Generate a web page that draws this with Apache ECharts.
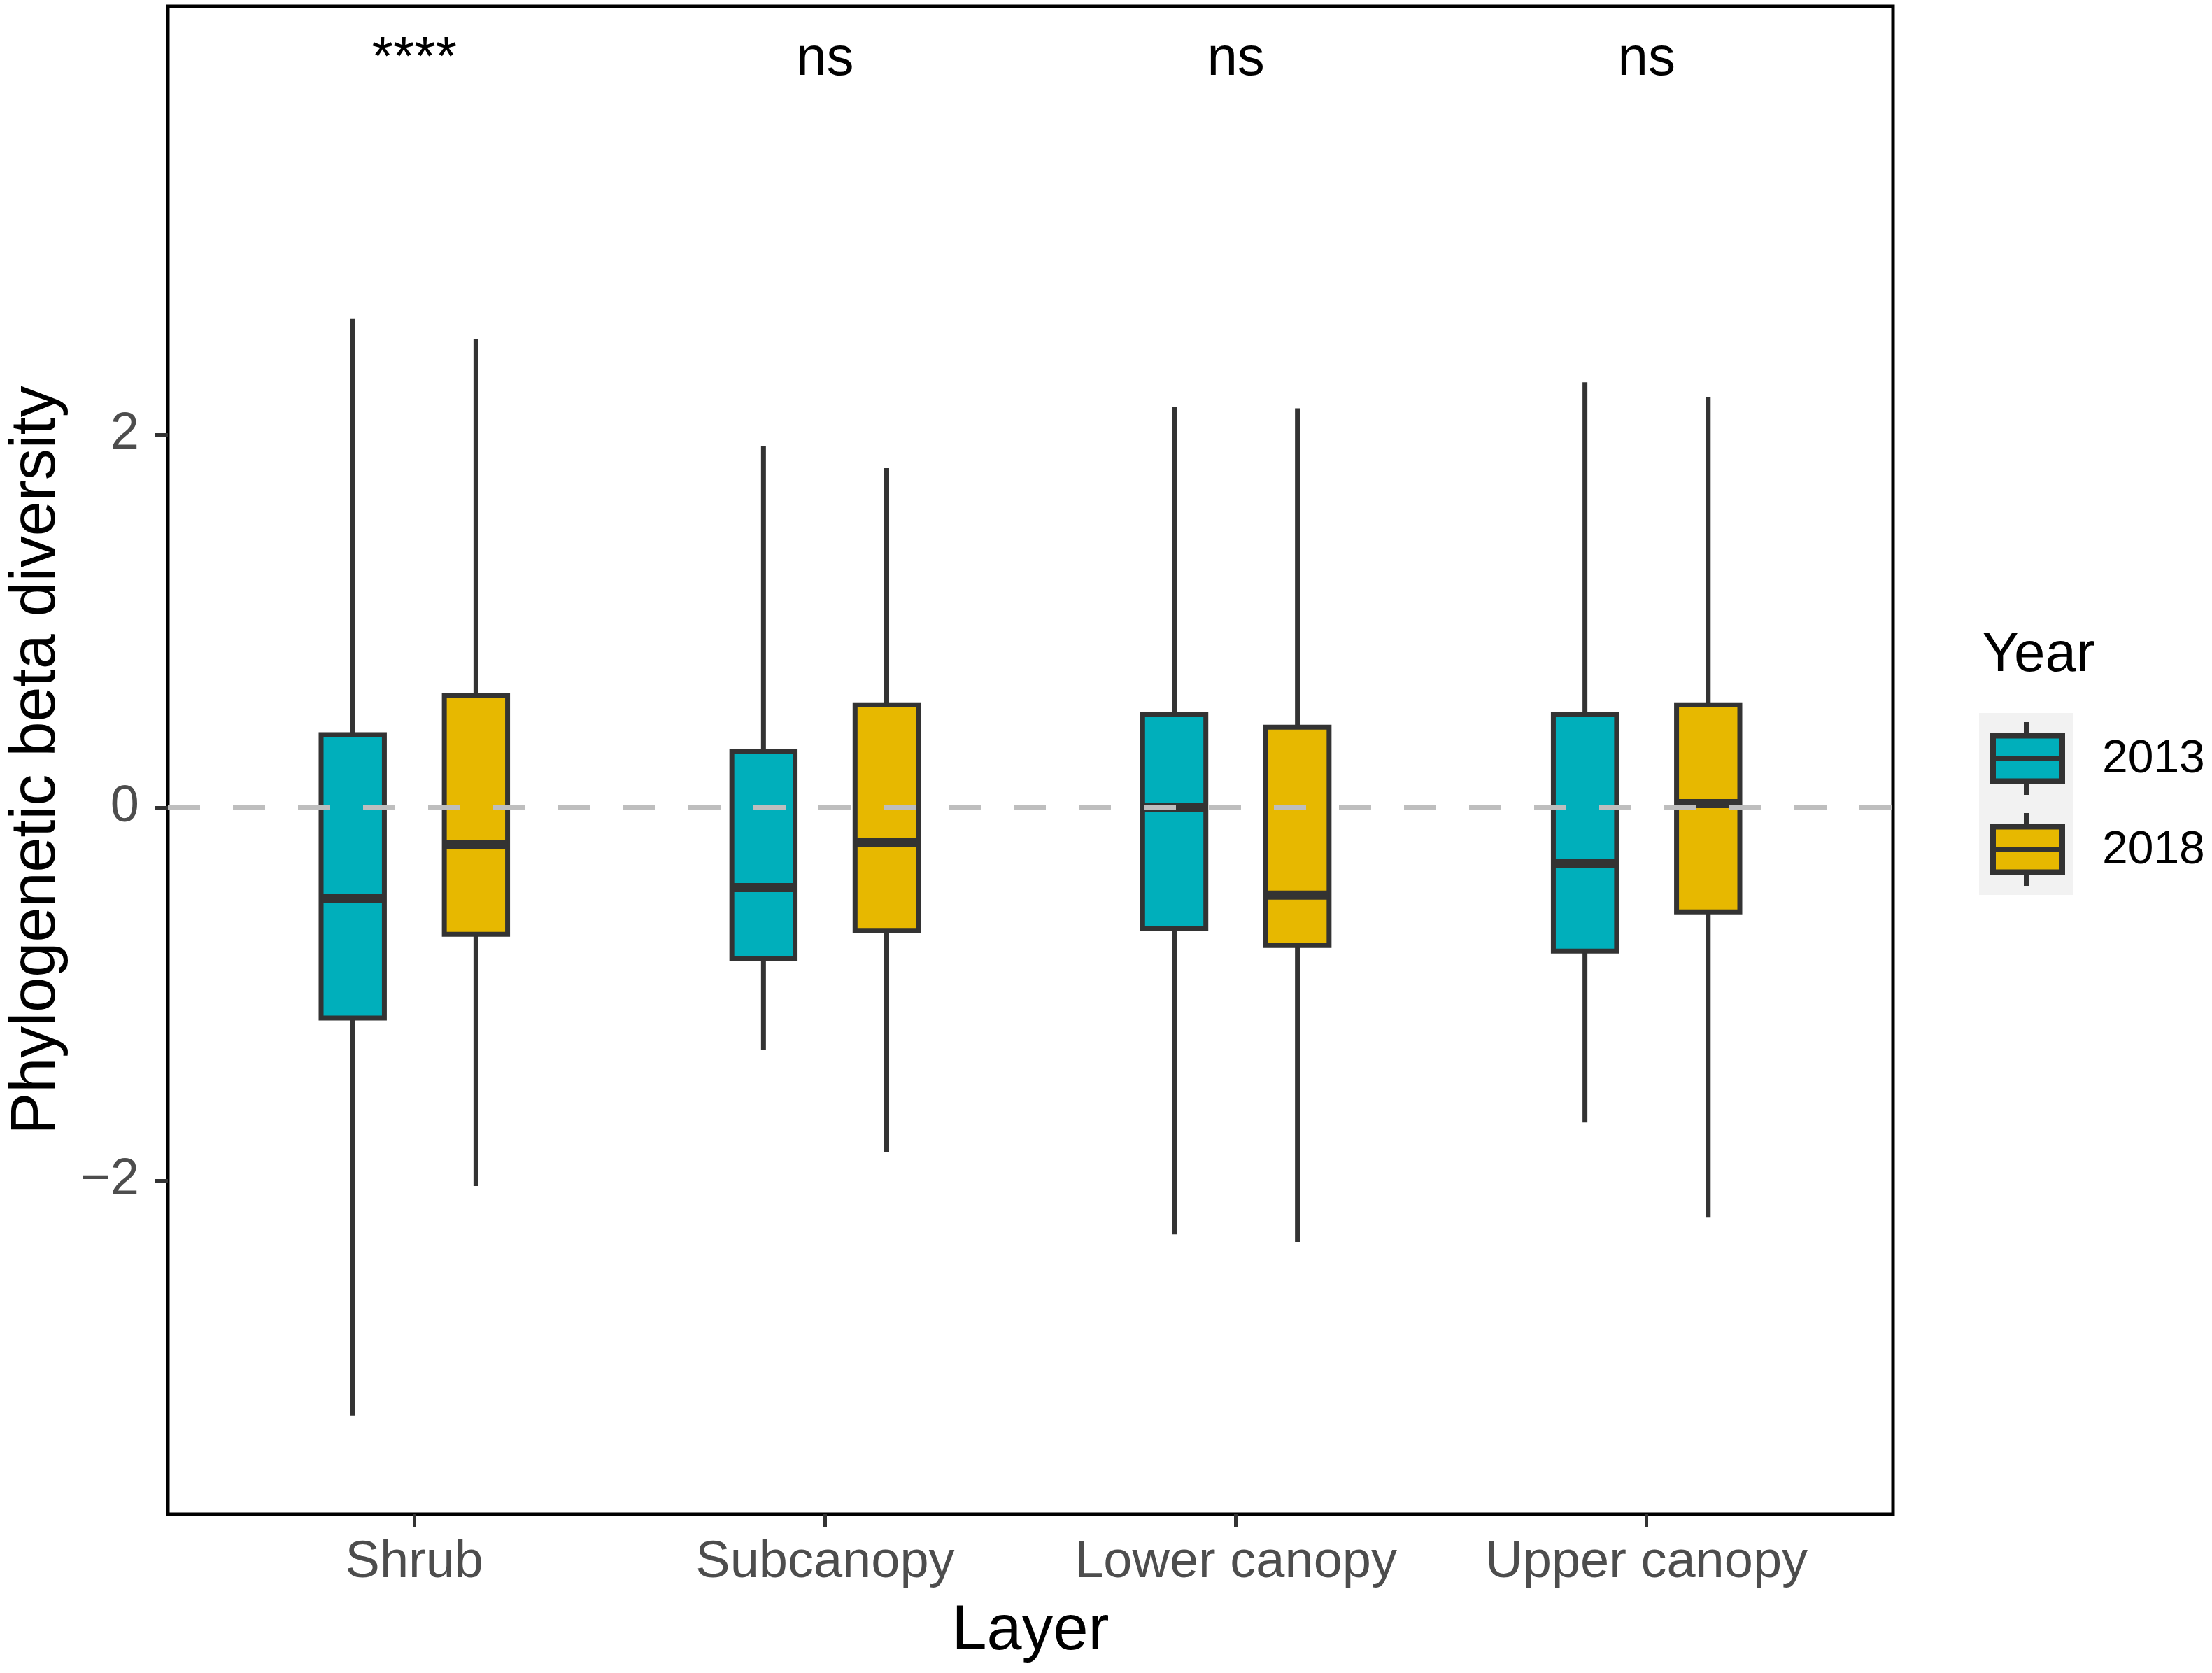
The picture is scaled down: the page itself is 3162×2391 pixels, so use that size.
<!DOCTYPE html>
<html>
<head>
<meta charset="utf-8">
<title>Phylogenetic beta diversity</title>
<script src="https://cdn.jsdelivr.net/npm/echarts@6.0.0/dist/echarts.min.js"></script>
<style>
html, body { margin: 0; padding: 0; background: #fff; }
#container { width: 3162px; height: 2391px; }
</style>
</head>
<body>
<div id="container"></div>
<script>
//-------------------------数据-------------------------------
var layers = ['Shrub', 'Subcanopy', 'Lower canopy', 'Upper canopy'];
var years = ['2013', '2018'];
// 每个箱子: [min, Q1, median, Q3, max]
var box2013 = [
    [-3.26, -1.13, -0.49, 0.39, 2.62],
    [-1.30, -0.81, -0.43, 0.30, 1.94],
    [-2.29, -0.65, 0.00, 0.50, 2.15],
    [-1.69, -0.77, -0.30, 0.50, 2.28]
];
var box2018 = [
    [-2.03, -0.68, -0.20, 0.60, 2.51],
    [-1.85, -0.66, -0.19, 0.55, 1.82],
    [-2.33, -0.74, -0.47, 0.43, 2.14],
    [-2.20, -0.56, 0.02, 0.55, 2.20]
];
var sigLabels = ['****', 'ns', 'ns', 'ns'];
var sigY = 4.01;
var yTicks = [-2, 0, 2];
var xTicks = [1, 2, 3, 4];

//-------------------------样式-------------------------------
var FONT = '"Liberation Sans", Arial, Helvetica, sans-serif';
var colors = ['#00AFBB', '#E7B800'];
var lineColor = '#333333';
var dodge = [-0.15, 0.15];
var boxHalf = 0.077;

//-------------------------页面加载完成后执行方法-------------------------------
window.onload = function () {
    initial();
};

function toSeriesData(boxes) {
    var out = [];
    for (var i = 0; i < boxes.length; i++) {
        out.push([i + 1].concat(boxes[i]));
    }
    return out;
}

//箱线图绘制
function boxRender(k) {
    return function (params, api) {
        var x = api.value(0) + dodge[k];
        var pMin = api.coord([x, api.value(1)]);
        var pQ1 = api.coord([x - boxHalf, api.value(2)]);
        var pMed = api.coord([x - boxHalf, api.value(3)]);
        var pQ3 = api.coord([x + boxHalf, api.value(4)]);
        var pMax = api.coord([x, api.value(5)]);
        return {
            type: 'group',
            children: [
                {
                    type: 'line',
                    shape: { x1: pMin[0], y1: pMin[1], x2: pMax[0], y2: pMax[1] },
                    style: { stroke: lineColor, lineWidth: 7 }
                },
                {
                    type: 'rect',
                    shape: { x: pQ1[0], y: pQ3[1], width: pQ3[0] - pQ1[0], height: pQ1[1] - pQ3[1] },
                    style: { fill: colors[k], stroke: lineColor, lineWidth: 7 }
                },
                {
                    type: 'line',
                    shape: { x1: pQ1[0], y1: pMed[1], x2: pQ3[0], y2: pMed[1] },
                    style: { stroke: lineColor, lineWidth: 13 }
                }
            ]
        };
    };
}

//图例
function legendGraphic() {
    var left = 2829, top = 1019, w = 135, h = 130;
    var els = [
        { type: 'text', left: 2833, top: 937 - 40, style: { text: 'Year', fontSize: 80, fontFamily: FONT, fill: '#000' } },
        { type: 'rect', shape: { x: left, y: top, width: w, height: h * years.length }, style: { fill: '#F2F2F2' } }
    ];
    for (var i = 0; i < years.length; i++) {
        var t = top + h * i;
        var cx = left + w / 2;
        els.push({ type: 'line', shape: { x1: cx, y1: t + 13, x2: cx, y2: t + 117 }, style: { stroke: lineColor, lineWidth: 7 } });
        els.push({ type: 'rect', shape: { x: 2849, y: t + 32.5, width: 99, height: 65 }, style: { fill: colors[i], stroke: lineColor, lineWidth: 8 } });
        els.push({ type: 'line', shape: { x1: 2849, y1: t + 65, x2: 2948, y2: t + 65 }, style: { stroke: lineColor, lineWidth: 8 } });
        els.push({ type: 'text', x: 3005, y: t + 67, style: { text: years[i], fontSize: 66, fontFamily: FONT, fill: '#000', verticalAlign: 'middle' } });
    }
    return els;
}

function initial() {
    var myChart = echarts.init(document.getElementById('container'));
    var sigData = [];
    for (var i = 0; i < sigLabels.length; i++) {
        sigData.push([i + 1, sigY]);
    }
    var option = {
        animation: false,
        backgroundColor: '#fff',
        grid: {
            left: 236, right: 456, top: 9, bottom: 227,
            show: true, borderColor: '#000', borderWidth: 5, backgroundColor: 'transparent'
        },
        xAxis: {
            type: 'value', min: 0.4, max: 4.6,
            name: 'Layer', nameLocation: 'middle', nameGap: 123,
            nameTextStyle: { fontSize: 90, color: '#000', fontFamily: FONT },
            axisLine: { show: false, onZero: false },
            splitLine: { show: false },
            axisTick: { show: true, length: 19, lineStyle: { color: lineColor, width: 5 }, customValues: xTicks },
            axisLabel: {
                customValues: xTicks, margin: 33, fontSize: 74, color: '#4D4D4D', fontFamily: FONT,
                formatter: function (v) { return layers[Math.round(v) - 1]; }
            }
        },
        yAxis: {
            type: 'value', min: -3.79, max: 4.296,
            name: 'Phylogenetic beta diversity', nameLocation: 'middle', nameGap: 142,
            nameTextStyle: { fontSize: 90, color: '#000', fontFamily: FONT },
            axisLine: { show: false, onZero: false },
            splitLine: { show: false },
            axisTick: { show: true, length: 19, lineStyle: { color: lineColor, width: 5 }, customValues: yTicks },
            axisLabel: {
                customValues: yTicks, margin: 41, fontSize: 74, color: '#4D4D4D', fontFamily: FONT,
                formatter: function (v) { return v < 0 ? '\u2212' + Math.abs(v) : String(v); }
            }
        },
        graphic: legendGraphic(),
        series: [
            { name: years[0], type: 'custom', renderItem: boxRender(0), data: toSeriesData(box2013), encode: { x: 0, y: [1, 2, 3, 4, 5] } },
            { name: years[1], type: 'custom', renderItem: boxRender(1), data: toSeriesData(box2018), encode: { x: 0, y: [1, 2, 3, 4, 5] } },
            {
                name: 'sig', type: 'custom', data: sigData, encode: { x: 0, y: 1 },
                renderItem: function (params, api) {
                    var p = api.coord([api.value(0), api.value(1)]);
                    return {
                        type: 'text', x: p[0], y: p[1],
                        style: { text: sigLabels[params.dataIndex], fontSize: 78, fontFamily: FONT, fill: '#000', align: 'center', verticalAlign: 'middle' }
                    };
                },
                //0 处的虚线
                markLine: {
                    silent: true, symbol: 'none', label: { show: false },
                    lineStyle: { type: [46, 47], color: '#BEBEBE', width: 6 },
                    data: [{ yAxis: 0 }]
                }
            }
        ]
    };
    myChart.setOption(option);
}
</script>
</body>
</html>
